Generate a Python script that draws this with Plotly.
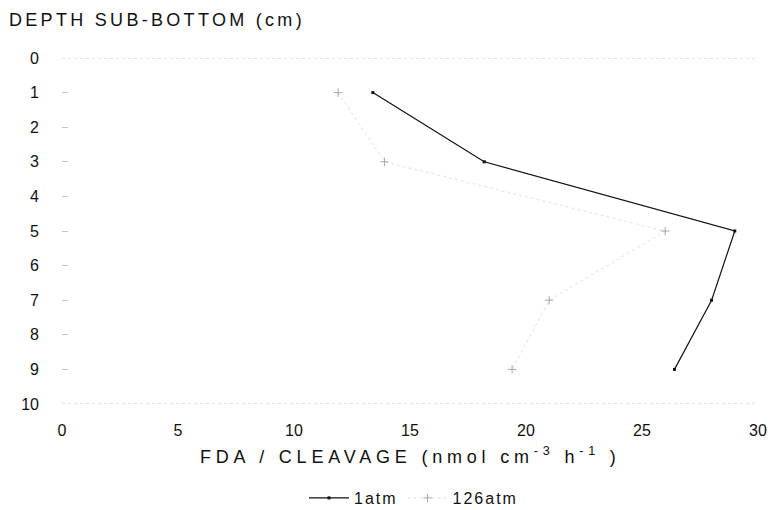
import plotly.graph_objects as go

# Data
depth = [1, 3, 5, 7, 9]
fda_1atm = [13.4, 18.2, 29.0, 28.0, 26.4]
fda_126atm = [11.9, 13.9, 26.0, 21.0, 19.4]
x_ticks = [0, 5, 10, 15, 20, 25, 30]
y_ticks = [0, 1, 2, 3, 4, 5, 6, 7, 8, 9, 10]
series_names = ["1atm", "126atm"]

FONT = "Liberation Sans, Arial, Helvetica, sans-serif"
PW, PH = 696, 346  # plot area size in px


def spaced(t, px):
    return f'<span style="letter-spacing:{px}px">{t}</span>'


fig = go.Figure()

fig.add_trace(go.Scatter(
    x=fda_1atm, y=depth, name=spaced(series_names[0], 2), mode="lines+markers",
    line=dict(color="#111111", width=1.2),
    marker=dict(symbol="square", size=3, color="#111111"),
))
fig.add_trace(go.Scatter(
    x=fda_126atm, y=depth, name=spaced(series_names[1], 2), mode="lines+markers",
    line=dict(color="#e2e2e2", width=1, dash="dot"),
    marker=dict(symbol="cross-thin", size=6, line=dict(color="#a8a8a8", width=1)),
))

# faint dotted frame lines at top (0) and bottom (10)
for yv in (y_ticks[0], y_ticks[-1]):
    fig.add_shape(type="line", xref="x", yref="y", x0=x_ticks[0], x1=x_ticks[-1],
                  y0=yv, y1=yv, line=dict(color="#c4c4c4", width=1, dash="dot"))

fig.update_layout(
    width=770, height=510,
    margin=dict(l=62, r=12, t=58, b=106, autoexpand=False),
    paper_bgcolor="white", plot_bgcolor="white",
    font=dict(family=FONT, size=16, color="#111111"),
    showlegend=True,
    legend=dict(orientation="h", x=0.505, xanchor="center", y=-94/PH, yanchor="middle",
                font=dict(size=16), itemwidth=40, tracegroupgap=0),
    annotations=[
        dict(text=spaced("DEPTH SUB-BOTTOM (cm)", 3.3), xref="paper", yref="paper",
             x=-55/PW, y=1 + 38/PH, xanchor="left", yanchor="middle",
             showarrow=False, font=dict(size=18)),
        dict(text=spaced("FDA / CLEAVAGE (nmol cm<sup>-3</sup> h<sup>-1</sup> )", 4.8),
             xref="paper", yref="paper",
             x=0.5, y=-51/PH, xanchor="center", yanchor="middle",
             showarrow=False, font=dict(size=18)),
    ],
)
fig.update_xaxes(range=[0, 30], tickvals=x_ticks, showgrid=False, zeroline=False,
                 showline=False, ticks="", ticklabelstandoff=15, automargin=False,
                 ticklabeloverflow="allow")
fig.update_yaxes(range=[10, 0], tickvals=y_ticks, showgrid=False, zeroline=False,
                 showline=False, ticks="inside", ticklen=6, tickcolor="#c8c8c8",
                 ticklabelstandoff=22, automargin=False)

fig.write_html(
    "out.html",
    config={"displayModeBar": False},
    post_script="document.body.style.margin='0';"
                "document.documentElement.style.overflow='hidden';"
                "document.body.style.overflow='hidden';",
)
